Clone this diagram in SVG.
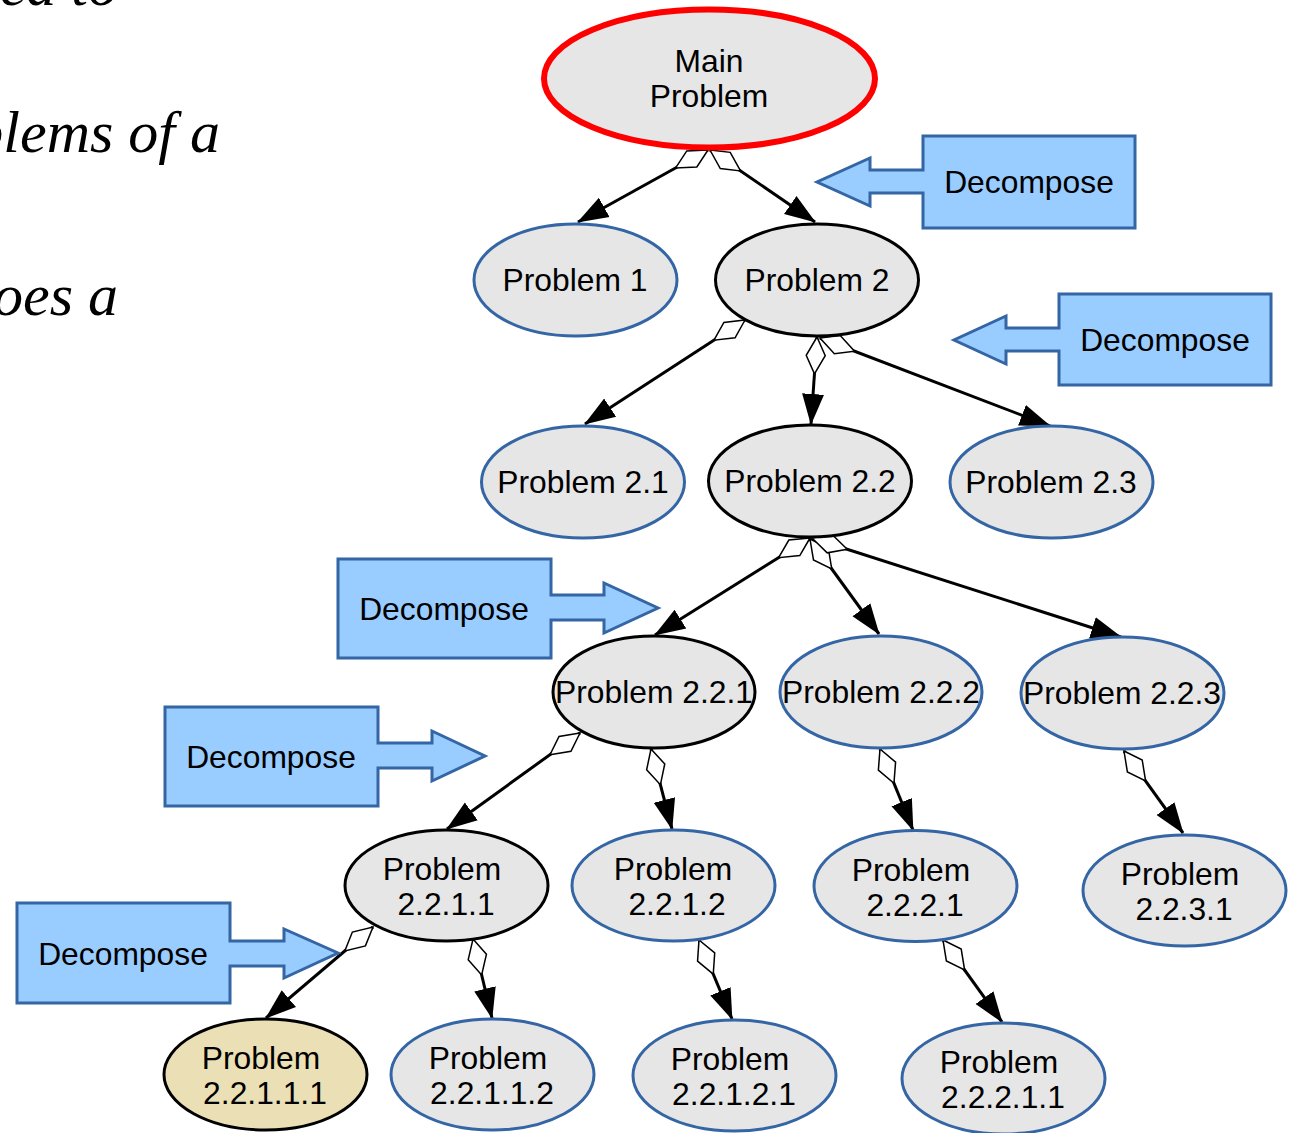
<svg xmlns="http://www.w3.org/2000/svg" width="1289" height="1133" viewBox="0 0 1289 1133">
<style>
.bg{fill:#ffffff}
.frag{font-family:"Liberation Serif",serif;font-style:italic;font-size:60px;fill:#000}
.n{fill:#e6e6e6;stroke:#3465a4;stroke-width:3}
.nb{fill:#e6e6e6;stroke:#000;stroke-width:3}
.t{font-family:"Liberation Sans",Arial,sans-serif;font-size:31.8px;fill:#000;text-anchor:middle}
.dc{fill:#99ccff;stroke:#3465a4;stroke-width:3;stroke-linejoin:miter}
.e{fill:none;stroke:#000;stroke-width:3;marker-start:url(#dia);marker-end:url(#arr)}
</style>
<defs>
<marker id="dia" markerUnits="userSpaceOnUse" markerWidth="42" markerHeight="24" viewBox="-1 -12 42 24" refX="0" refY="0" orient="auto">
<path d="M0,0 L18,-9.5 L37,0 L19,9.5 Z" fill="#ffffff" stroke="#000" stroke-width="1.5" stroke-linejoin="miter"/>
</marker>
<marker id="arr" markerUnits="userSpaceOnUse" markerWidth="34" markerHeight="26" viewBox="0 -13 34 26" refX="30" refY="0" orient="auto">
<path d="M0,-11 L31,0 L0,11 Z" fill="#000"/>
</marker>
</defs>
<rect class="bg" x="0" y="0" width="1289" height="1133"/>

<g id="text-fragments">
<text class="frag" x="118" y="5" text-anchor="end">sed to</text>
<text class="frag" x="220" y="152" text-anchor="end">blems of a</text>
<text class="frag" x="118" y="315" text-anchor="end">oes a</text>
</g>

<g id="connectors">
<path class="e" d="M708,150 L578,222"/>
<path class="e" d="M710,150 L815,222"/>
<path class="e" d="M745,320 L585,424"/>
<path class="e" d="M817,337 L811,424"/>
<path class="e" d="M820,338 L1050,426"/>
<path class="e" d="M810,538 L655,635"/>
<path class="e" d="M810,539 L879,634"/>
<path class="e" d="M812,538 L1121,637"/>
<path class="e" d="M580,733 L447,829"/>
<path class="e" d="M651,749 L672,829"/>
<path class="e" d="M880,749 L913,830"/>
<path class="e" d="M1124,751 L1183,833"/>
<path class="e" d="M373,927 L266,1018"/>
<path class="e" d="M473,939 L492,1018"/>
<path class="e" d="M699,940 L732,1019"/>
<path class="e" d="M943,940 L1002,1022"/>
</g>

<g id="main-problem">
<ellipse cx="709.5" cy="78.5" rx="165.5" ry="69" fill="#e6e6e6" stroke="#ff0000" stroke-width="6"/>
<text class="t" x="709" y="72">Main</text>
<text class="t" x="709" y="107">Problem</text>
</g>

<g id="problem-1">
<ellipse class="n" cx="575.5" cy="280" rx="101.5" ry="56"/>
<text class="t" x="575" y="291">Problem 1</text>
</g>
<g id="problem-2">
<ellipse class="nb" cx="817" cy="280" rx="101.5" ry="56"/>
<text class="t" x="817" y="291">Problem 2</text>
</g>
<g id="problem-2-1">
<ellipse class="n" cx="583" cy="482" rx="101.5" ry="56"/>
<text class="t" x="583" y="493">Problem 2.1</text>
</g>
<g id="problem-2-2">
<ellipse class="nb" cx="810" cy="481" rx="101.5" ry="56"/>
<text class="t" x="810" y="492">Problem 2.2</text>
</g>
<g id="problem-2-3">
<ellipse class="n" cx="1051.5" cy="482" rx="101.5" ry="56"/>
<text class="t" x="1051" y="493">Problem 2.3</text>
</g>
<g id="problem-2-2-1">
<ellipse class="nb" cx="654" cy="692" rx="101" ry="56"/>
<text class="t" x="654" y="703">Problem 2.2.1</text>
</g>
<g id="problem-2-2-2">
<ellipse class="n" cx="881" cy="692" rx="101" ry="56"/>
<text class="t" x="881" y="703">Problem 2.2.2</text>
</g>
<g id="problem-2-2-3">
<ellipse class="n" cx="1122.5" cy="693" rx="101.5" ry="56"/>
<text class="t" x="1122" y="704">Problem 2.2.3</text>
</g>
<g id="problem-2-2-1-1">
<ellipse class="nb" cx="446.5" cy="885.5" rx="101.5" ry="55.5"/>
<text class="t" x="442" y="880">Problem</text>
<text class="t" x="446" y="915">2.2.1.1</text>
</g>
<g id="problem-2-2-1-2">
<ellipse class="n" cx="673.5" cy="885.5" rx="101.5" ry="55.5"/>
<text class="t" x="673" y="880">Problem</text>
<text class="t" x="677" y="915">2.2.1.2</text>
</g>
<g id="problem-2-2-2-1">
<ellipse class="n" cx="915.5" cy="886" rx="101.5" ry="55.5"/>
<text class="t" x="911" y="881">Problem</text>
<text class="t" x="915" y="916">2.2.2.1</text>
</g>
<g id="problem-2-2-3-1">
<ellipse class="n" cx="1184.5" cy="890.5" rx="101.5" ry="55.5"/>
<text class="t" x="1180" y="885">Problem</text>
<text class="t" x="1184" y="920">2.2.3.1</text>
</g>
<g id="problem-2-2-1-1-1">
<ellipse cx="265.5" cy="1074.5" rx="101.5" ry="55.5" fill="#ebdfb5" stroke="#000" stroke-width="3"/>
<text class="t" x="261" y="1069">Problem</text>
<text class="t" x="265" y="1104">2.2.1.1.1</text>
</g>
<g id="problem-2-2-1-1-2">
<ellipse class="n" cx="492.5" cy="1074.5" rx="101.5" ry="55.5"/>
<text class="t" x="488" y="1069">Problem</text>
<text class="t" x="492" y="1104">2.2.1.1.2</text>
</g>
<g id="problem-2-2-1-2-1">
<ellipse class="n" cx="734.5" cy="1075.5" rx="101.5" ry="55.5"/>
<text class="t" x="730" y="1070">Problem</text>
<text class="t" x="734" y="1105">2.2.1.2.1</text>
</g>
<g id="problem-2-2-2-1-1">
<ellipse class="n" cx="1003.5" cy="1078.5" rx="101.5" ry="55.5"/>
<text class="t" x="999" y="1073">Problem</text>
<text class="t" x="1003" y="1108">2.2.2.1.1</text>
</g>

<g id="decompose-1">
<path class="dc" d="M923,136 H1135 V228 H923 V193 H870 V206 L817,182 L870,158 V170 H923 Z"/>
<text class="t" x="1029" y="193">Decompose</text>
</g>
<g id="decompose-2">
<path class="dc" d="M1059,294 H1271 V385 H1059 V351 H1006 V364 L954,340 L1006,316 V328 H1059 Z"/>
<text class="t" x="1165" y="351">Decompose</text>
</g>
<g id="decompose-3">
<path class="dc" d="M338,559 H551 V595 H604 V583 L658,608 L604,633 V620 H551 V658 H338 Z"/>
<text class="t" x="444" y="620">Decompose</text>
</g>
<g id="decompose-4">
<path class="dc" d="M165,707 H378 V743 H432 V731 L485,756 L432,781 V768 H378 V806 H165 Z"/>
<text class="t" x="271" y="768">Decompose</text>
</g>
<g id="decompose-5">
<path class="dc" d="M17,903 H230 V941 H284 V929 L338,953 L284,978 V966 H230 V1003 H17 Z"/>
<text class="t" x="123" y="965">Decompose</text>
</g>
</svg>
